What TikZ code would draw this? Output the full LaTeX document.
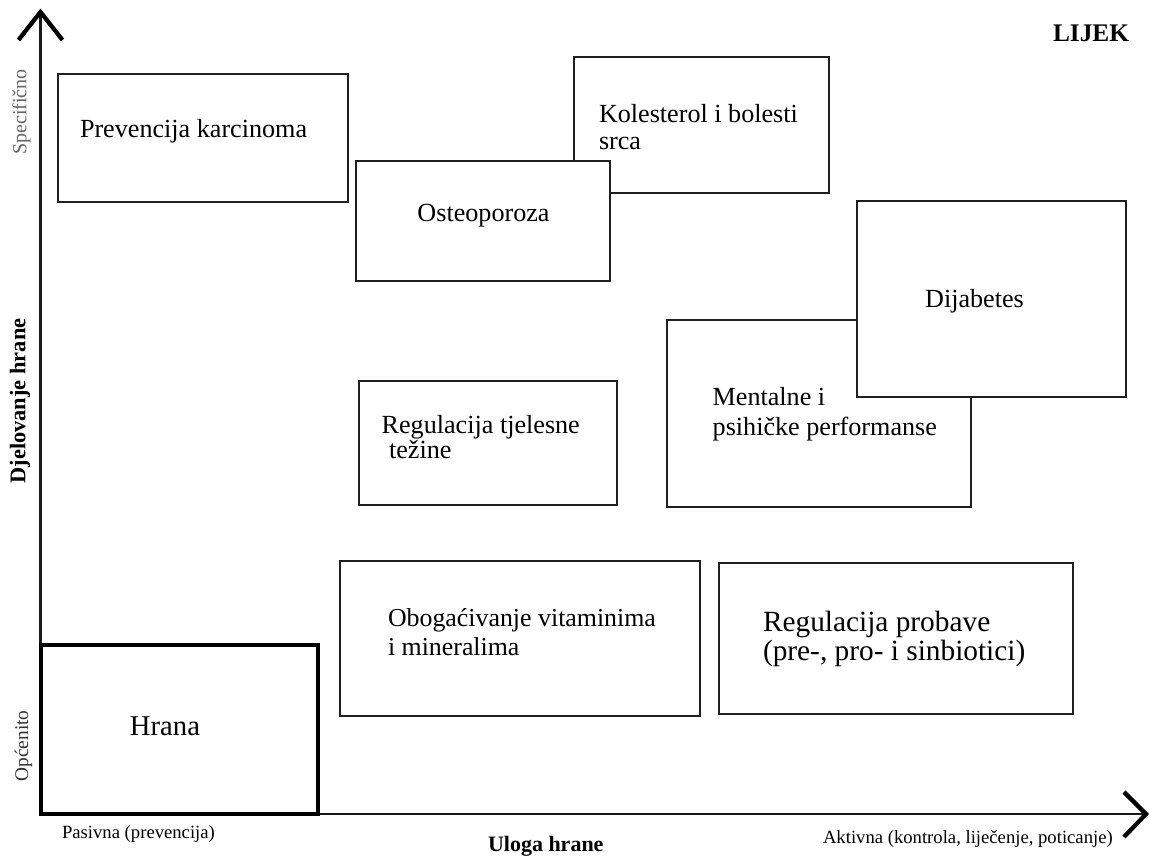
\documentclass[tikz,border=0pt]{standalone}
\usepackage{fontspec}
\setmainfont{Liberation Serif}
\usetikzlibrary{fit}
\newcommand\fs[2]{\fontsize{#1}{#2}\selectfont}
\tikzset{
  box/.style={draw=black!88, line width=1.5pt, fill=white, inner sep=0pt, outer sep=0pt},
  foodbox/.style={draw=black, line width=3pt, inner sep=0pt, outer sep=0pt},
  txt/.style={inner sep=0pt, outer sep=0pt, align=left, text=black},
  axis/.style={draw=black!90, line width=1.9pt},
  chev/.style={draw=black, line width=3.2pt, line join=miter, line cap=butt},
  side/.style={inner sep=0pt, outer sep=0pt, rotate=90},
}
\begin{document}
\begin{tikzpicture}[x=0.75pt, y=-0.75pt]
\useasboundingbox[fill=white] (0,0) rectangle (1150,859);

% axes
\coordinate (O) at (40.5,814);
\coordinate (Ytip) at (40.5,12);
\coordinate (Xtip) at (1146,814);
\coordinate (ya) at (18.5,40);
\coordinate (yb) at (62.5,40);
\coordinate (xa) at (1124,792);
\coordinate (xb) at (1124,837);
\draw[axis] (O) -- (Ytip);
\draw[axis] (O) -- (Xtip);
\draw[chev] (ya) -- (Ytip) -- (yb);
\draw[chev] (xa) -- (Xtip) -- (xb);

% axis labels
\node[side, text=black!60, font=\fs{15}{17}] (spec) at (21.5,112) {Specifično};
\node[side, font=\bfseries\fs{16.8}{19}] (djel) at (20,401) {Djelovanje hrane};
\node[side, text=black!80, font=\fs{14.5}{16}] (opc) at (23.5,746) {Općenito};
\node[txt, anchor=base west, font=\fs{14}{16}] (pas) at (62,838.5) {Pasivna (prevencija)};
\node[txt, anchor=base west, font=\bfseries\fs{16.5}{19}] (ulo) at (488,851.5) {Uloga hrane};
\node[txt, anchor=base west, font=\fs{14}{16}] (akt) at (823,843) {Aktivna (kontrola, liječenje, poticanje)};
\node[txt, anchor=base west, font=\bfseries\fs{19}{21}] (lijek) at (1053,41.5) {LIJEK};

% boxes
\node[box, fit={(58,74) (348,202.5)}] (bkar) {};
\node[txt, anchor=base west, font=\fs{19.6}{21}] (tkar) at (80,138) {Prevencija karcinoma};

\node[box, fit={(574.3,57.3) (829,193.3)}] (bkol) {};
\node[txt, anchor=west, font=\fs{19.6}{19.9}] (tkol) at (599,127) {Kolesterol i bolesti\\srca};

\node[box, fit={(355.7,160.7) (610,281)}] (bost) {};
\node[txt, anchor=base, font=\fs{19.6}{21}] (tost) at (483.5,221.7) {Osteoporoza};

\node[box, fit={(359.3,380.7) (617.3,505)}] (btez) {};
\node[txt, anchor=west, font=\fs{19.6}{18.75}] (ttez) at (381.7,436.9) {Regulacija tjelesne\\\hspace*{5.5pt}težine};

\node[box, fit={(667.3,320) (971,506.7)}] (bmen) {};
\node[txt, anchor=west, font=\fs{19.6}{22.5}] (tmen) at (712.7,413.9) {Mentalne i\\psihičke performanse};

\node[box, fit={(857.3,200.7) (1126,397.3)}] (bdij) {};
\node[txt, anchor=base, font=\fs{19.6}{21}] (tdij) at (974.5,308) {Dijabetes};

\node[box, fit={(340,561) (700,716)}] (bvit) {};
\node[txt, anchor=west, font=\fs{19.4}{21.4}] (tvit) at (388,631.9) {Obogaćivanje vitaminima\\i mineralima};

\node[box, fit={(719,563) (1073,714)}] (bpro) {};
\node[txt, anchor=west, font=\fs{22}{21.4}] (tpro) at (763,638.9) {Regulacija probave\\(pre-, pro- i sinbiotici)};

\node[foodbox, fit={(40.5,645) (317.5,814)}] (bhra) {};
\node[txt, anchor=base, font=\fs{21.5}{23}] (thra) at (165,735.7) {Hrana};
\end{tikzpicture}
\end{document}
